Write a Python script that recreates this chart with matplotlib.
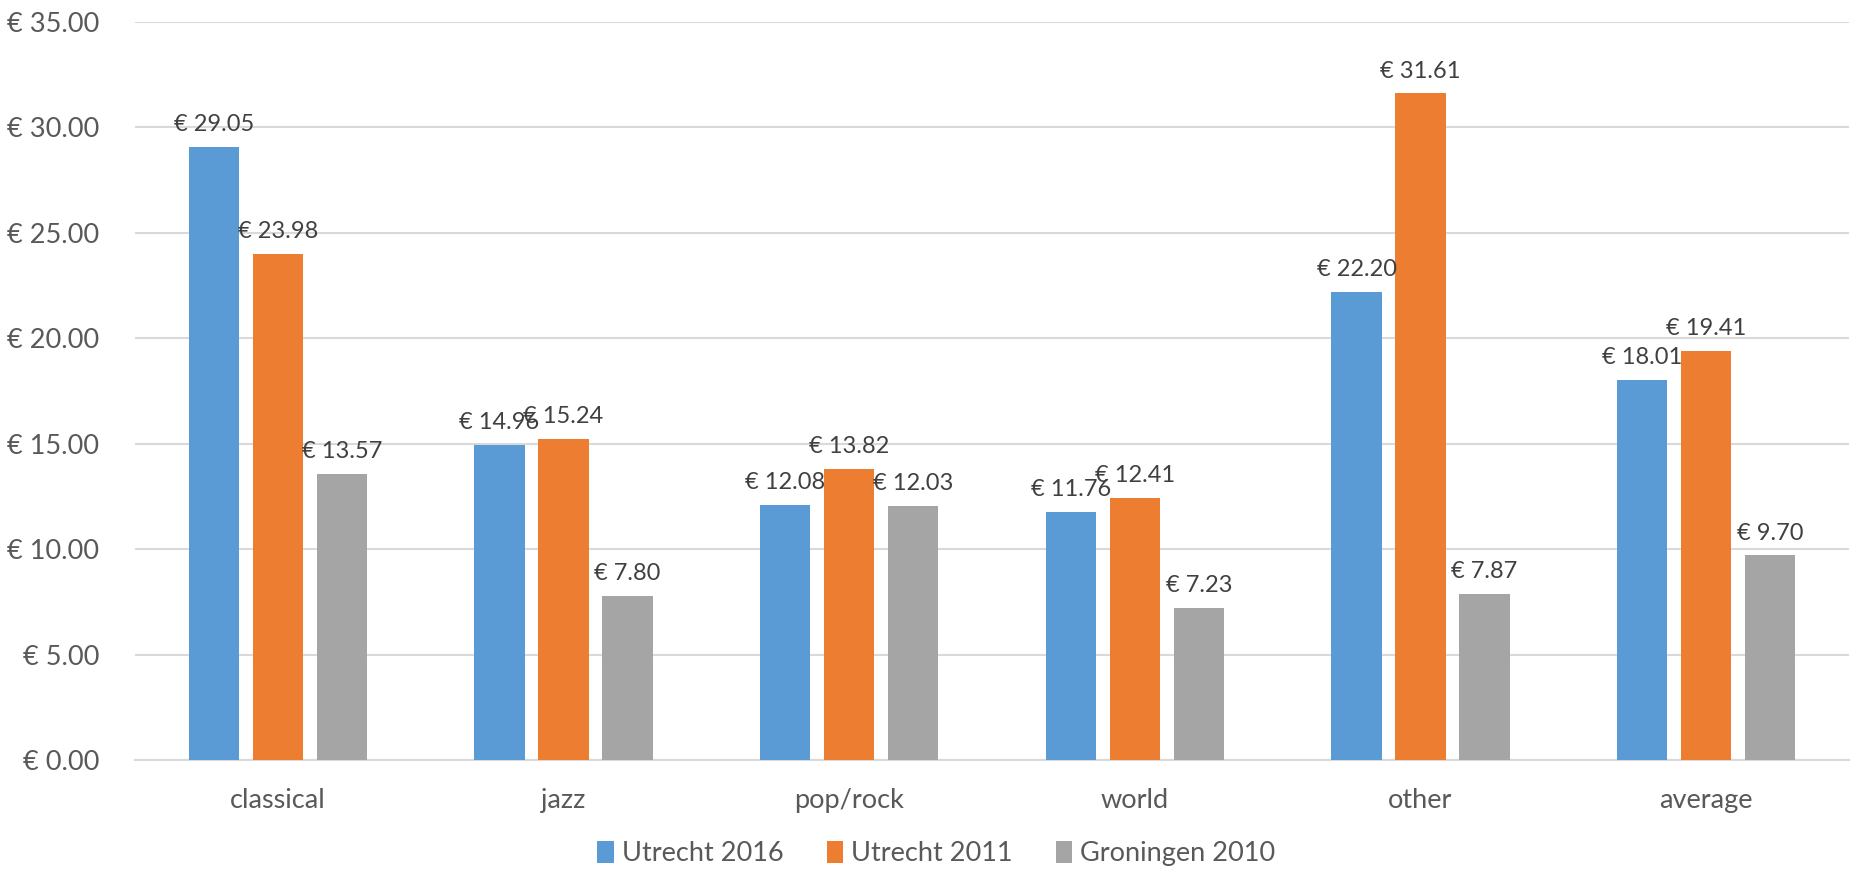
import numpy as np
import matplotlib.pyplot as plt

plt.rcParams['font.family'] = ['Lato', 'DejaVu Sans']

categories = ['classical', 'jazz', 'pop/rock', 'world', 'other', 'average']
series = ['Utrecht 2016', 'Utrecht 2011', 'Groningen 2010']
utrecht_2016 = [29.05, 14.96, 12.08, 11.76, 22.20, 18.01]
utrecht_2011 = [23.98, 15.24, 13.82, 12.41, 31.61, 19.41]
groningen_2010 = [13.57, 7.80, 12.03, 7.23, 7.87, 9.70]
colors = ['#5B9BD5', '#ED7D31', '#A5A5A5']

fig = plt.figure(figsize=(18.73, 8.73), dpi=100)
ax = fig.add_axes([0.0721, 0.1294, 0.9151, 0.8454])

x = np.arange(len(categories))
width = 0.177
step = 0.224
data = [utrecht_2016, utrecht_2011, groningen_2010]

for i, (name, vals, c) in enumerate(zip(series, data, colors)):
    pos = x + (i - 1) * step
    ax.bar(pos, vals, width, color=c, label=name, zorder=3)
    for px, v in zip(pos, vals):
        ax.annotate(f'€ {v:.2f}', (px, v), xytext=(0, 11.5), textcoords='offset points',
                    ha='center', va='baseline', fontsize=17, color='#404040', zorder=4)

ax.set_xlim(-0.5, len(categories) - 0.5)
ax.set_ylim(0, 35)
ax.set_yticks(np.arange(0, 36, 5))
ax.set_yticklabels([f'€ {t:.2f}' for t in np.arange(0, 36, 5)])
ax.set_xticks(x)
ax.set_xticklabels(categories)
ax.tick_params(axis='both', length=0, labelsize=19.5, labelcolor='#595959')
ax.tick_params(axis='x', pad=20)
ax.tick_params(axis='y', pad=26)
ax.grid(axis='y', color='#D9D9D9', linewidth=1.5, zorder=0)
for s in ['top', 'right', 'left']:
    ax.spines[s].set_visible(False)
ax.spines['bottom'].set_color('#D9D9D9')
ax.spines['bottom'].set_linewidth(1.5)

leg = fig.legend(loc='lower center', ncol=3, frameon=False, fontsize=19.5,
                 bbox_to_anchor=(0.5, -0.02), handlelength=0.6, handleheight=0.9,
                 handletextpad=0.3, columnspacing=1.6)
for t in leg.get_texts():
    t.set_color('#595959')

fig.savefig('out.png', dpi=100)
